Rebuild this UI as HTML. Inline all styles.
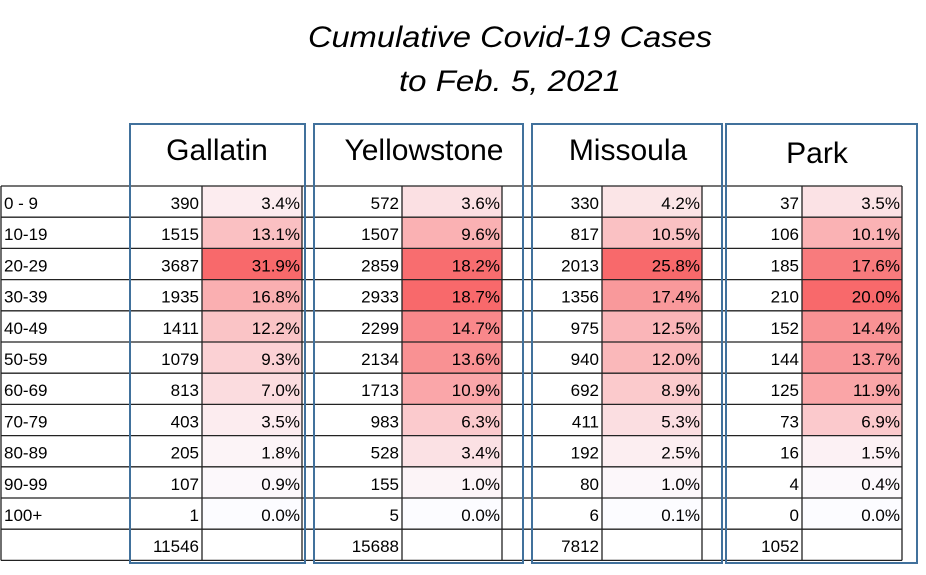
<!DOCTYPE html>
<html><head><meta charset="utf-8"><style>
html,body{margin:0;padding:0;background:#fff;}
svg{display:block;font-family:"Liberation Sans",sans-serif;}
</style></head><body>
<svg id="chart" width="926" height="575" viewBox="0 0 926 575">
<text x="510" y="47" font-size="30" font-style="italic" text-anchor="middle" textLength="404" lengthAdjust="spacingAndGlyphs">Cumulative Covid-19 Cases</text>
<text x="510" y="91" font-size="30" font-style="italic" text-anchor="middle" textLength="222" lengthAdjust="spacingAndGlyphs">to Feb. 5, 2021</text>
<g id="cells"></g>
<g id="grid"></g>
<g id="boxes"></g>
</svg>
<script>
const ageGroups = ["0 - 9","10-19","20-29","30-39","40-49","50-59","60-69","70-79","80-89","90-99","100+"];
const counties = ["Gallatin","Yellowstone","Missoula","Park"];
const gallatinCounts = [390,1515,3687,1935,1411,1079,813,403,205,107,1];
const gallatinPcts = [3.4,13.1,31.9,16.8,12.2,9.3,7.0,3.5,1.8,0.9,0.0];
const yellowstoneCounts = [572,1507,2859,2933,2299,2134,1713,983,528,155,5];
const yellowstonePcts = [3.6,9.6,18.2,18.7,14.7,13.6,10.9,6.3,3.4,1.0,0.0];
const missoulaCounts = [330,817,2013,1356,975,940,692,411,192,80,6];
const missoulaPcts = [4.2,10.5,25.8,17.4,12.5,12.0,8.9,5.3,2.5,1.0,0.1];
const parkCounts = [37,106,185,210,152,144,125,73,16,4,0];
const parkPcts = [3.5,10.1,17.6,20.0,14.4,13.7,11.9,6.9,1.5,0.4,0.0];
const totals = [11546,15688,7812,1052];

const countsAll=[gallatinCounts,yellowstoneCounts,missoulaCounts,parkCounts];
const pctsAll=[gallatinPcts,yellowstonePcts,missoulaPcts,parkPcts];
const NS="http://www.w3.org/2000/svg";
const cellsG=document.getElementById('cells'),gridG=document.getElementById('grid'),boxesG=document.getElementById('boxes');
const top0=186,rowH=31.2,nRows=12;
const colX=[1,130,202,302,402,502,602,702,802,902];
const boxX=[[130,305],[314,523],[532,722],[726,917]];
const headerX=[217,424,628,817],headerY=[160,160,160,163];
function mk(tag,attrs,parent){const e=document.createElementNS(NS,tag);for(const k in attrs)e.setAttribute(k,attrs[k]);parent.appendChild(e);return e;}
function rowY(i){return top0+i*rowH;}
function heat(v,min,max){const t=max>min?(v-min)/(max-min):0;
 const r=Math.round(252+(248-252)*t),g=Math.round(252+(105-252)*t),b=Math.round(255+(107-255)*t);return `rgb(${r},${g},${b})`;}
ageGroups.forEach((a,i)=>{
 const t=mk('text',{x:4,y:rowY(i)+23,'font-size':17},cellsG);t.textContent=a;
 
 
});
counties.forEach((c,ci)=>{
 const cnt=countsAll[ci],pct=pctsAll[ci];
 const mn=Math.min(...pct),mx=Math.max(...pct);
 const nx=colX[1+ci*2],px=colX[2+ci*2],ex=colX[3+ci*2];
 pct.forEach((p,i)=>{
  const r=mk('rect',{x:px,y:rowY(i),width:ex-px,height:rowH,fill:heat(p,mn,mx)},cellsG);
  
  
  const t1=mk('text',{x:px-3,y:rowY(i)+23,'font-size':17,'text-anchor':'end'},cellsG);t1.textContent=cnt[i];
  
  
  const t2=mk('text',{x:ex-2,y:rowY(i)+23,'font-size':17,'text-anchor':'end'},cellsG);t2.textContent=p.toFixed(1)+'%';
  
  
 });
 const tt=mk('text',{x:px-3,y:rowY(11)+23,'font-size':17,'text-anchor':'end'},cellsG);tt.textContent=totals[ci];
 
 
 const b=boxX[ci];
 const bx=mk('rect',{x:b[0],y:124,width:b[1]-b[0],height:439,fill:'none',stroke:'#41719C','stroke-width':2},boxesG);
 
 
 const h=mk('text',{x:headerX[ci],y:headerY[ci],'font-size':30,'text-anchor':'middle'},boxesG);h.textContent=c;
 
 
});
for(let i=0;i<=nRows;i++){const l=mk('line',{x1:1,x2:902,y1:rowY(i),y2:rowY(i),stroke:'#222','stroke-width':1.3},gridG);
 
 }
colX.forEach(x=>{const l=mk('line',{x1:x,x2:x,y1:top0,y2:rowY(nRows),stroke:'#222','stroke-width':1.3},gridG);
 
 });
</script>
</body></html>
